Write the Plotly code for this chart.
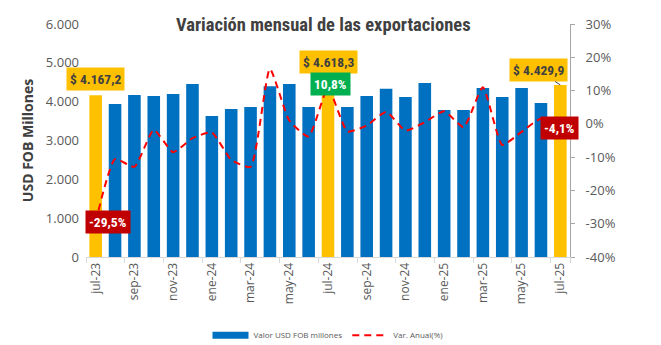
import plotly.graph_objects as go

months = ["jul-23", "ago-23", "sep-23", "oct-23", "nov-23", "dic-23", "ene-24", "feb-24", "mar-24",
          "abr-24", "may-24", "jun-24", "jul-24", "ago-24", "sep-24", "oct-24", "nov-24", "dic-24",
          "ene-25", "feb-25", "mar-25", "abr-25", "may-25", "jun-25", "jul-25"]
valor = [4167.2, 3940, 4170, 4145, 4200, 4457, 3630, 3810, 3860, 4400, 4457, 3860, 4618.3,
         3860, 4145, 4330, 4120, 4480, 3785, 3785, 4355, 4120, 4355, 3965, 4429.9]
var_anual = [-29.5, -10.6, -12.9, -1.8, -8.5, -4.3, -2.6, -10.8, -12.9, 16.5, 1.0, -3.8, 10.8,
             -2.3, -0.5, 3.6, -2.0, 0.5, 3.8, -1.0, 11.0, -6.3, -2.4, 1.5, -4.1]
highlight = ["jul-23", "jul-24", "jul-25"]
tick_labels = months[::2]
left_ticks = [0, 1000, 2000, 3000, 4000, 5000, 6000]
right_ticks = [-40, -30, -20, -10, 0, 10, 20, 30]

BLUE = "#0070C0"
YELLOW = "#FFC000"
RED = "#FF0000"
GREEN = "#00B050"
DARKRED = "#C00000"
GREY = "#595959"
FONT = "Open Sans, DejaVu Sans, sans-serif"
TFONT = "Roboto Condensed, Liberation Sans Narrow, Roboto, sans-serif"

colors = [YELLOW if m in highlight else BLUE for m in months]

fig = go.Figure()
fig.add_trace(go.Bar(x=months, y=valor, marker=dict(color=colors, line=dict(width=0)),
                     name="Valor USD FOB millones", yaxis="y", showlegend=False))
# legend entry drawn as a wide blue band, like the original
fig.add_trace(go.Scatter(x=[None], y=[None], mode="lines", name="Valor USD FOB millones",
                         line=dict(color=BLUE, width=7), yaxis="y"))
fig.add_trace(go.Scatter(x=months, y=var_anual, mode="lines", name="Var. Anual(%)",
                         line=dict(color=RED, width=2, dash="7px,5px", shape="spline", smoothing=0.5),
                         yaxis="y2"))


def fmt_num(v):
    s = f"{v:,.1f}"
    return s.replace(",", "X").replace(".", ",").replace("X", ".")


idx = {m: i for i, m in enumerate(months)}
# value labels
for m in highlight[:2]:
    i = idx[m]
    fig.add_annotation(x=m, y=valor[i], yref="y", text="<b>$ " + fmt_num(valor[i]) + "</b>",
                       showarrow=False, yanchor="bottom", yshift=4, bgcolor=YELLOW,
                       font=dict(family=TFONT, size=13.5, color="#404040"), borderpad=3)
i = idx["jul-25"]
fig.add_annotation(x="jul-25", y=valor[i], yref="y", text="<b>$ " + fmt_num(valor[i]) + "</b>",
                   showarrow=True, arrowhead=0, arrowwidth=1, arrowcolor="#404040",
                   ax=-22, ay=-15, bgcolor=YELLOW, standoff=0,
                   font=dict(family=TFONT, size=13.5, color="#404040"), borderpad=3)

# variation labels
var_lbl = [("jul-23", DARKRED, 12, 0), ("jul-24", GREEN, 2, 4), ("jul-25", DARKRED, -1, 10)]
for m, c, xs, ys in var_lbl:
    i = idx[m]
    fig.add_annotation(x=m, y=var_anual[i], yref="y2",
                       text="<b>" + fmt_num(var_anual[i]) + "%</b>",
                       showarrow=False, xshift=xs, yshift=ys, bgcolor=c,
                       font=dict(family=TFONT, size=13.5, color="white"), borderpad=3)

fig.update_layout(
    width=661, height=345,
    margin=dict(l=86, r=91, t=24, b=88),
    paper_bgcolor="white", plot_bgcolor="white",
    separators=",.",
    bargap=0.35,
    showlegend=True,
    legend=dict(orientation="h", x=0.5, xanchor="center", xref="paper", y=0.028, yanchor="middle",
                yref="container", font=dict(family=FONT, size=8, color=GREY), itemwidth=36,
                tracegroupgap=0),
    title=dict(text="<b>Variación mensual de las exportaciones</b>", x=0.489, xanchor="center",
               y=0.93, yanchor="middle", font=dict(family=TFONT, size=18.5, color="#404040")),
    xaxis=dict(type="category", range=[-0.5, len(months) - 0.5], tickmode="array",
               tickvals=tick_labels, ticktext=tick_labels,
               tickangle=-90, tickson="boundaries", ticks="outside", ticklen=5, tickcolor="#D9D9D9",
               showline=True, linecolor="#D9D9D9", linewidth=1, automargin=False,
               tickfont=dict(family=FONT, size=12, color=GREY), showgrid=False),
    yaxis=dict(range=[0, 6000], tickvals=left_ticks, tickformat=",.0f", showgrid=False,
               zeroline=False, tickfont=dict(family=FONT, size=13, color=GREY), automargin=False,
               ticklabelstandoff=6,
               title=dict(text="<b>USD FOB Millones</b>", font=dict(family=FONT, size=14, color="#404040"),
                          standoff=8)),
    yaxis2=dict(range=[-40, 30], tickmode="array", tickvals=right_ticks,
                ticktext=[f"{v}%" for v in right_ticks], overlaying="y", side="right",
                showgrid=False, zeroline=False, showline=True, linecolor="#A6A6A6", linewidth=1,
                ticks="outside", ticklen=4, tickcolor="#A6A6A6", automargin=False,
                ticklabelstandoff=8,
                tickfont=dict(family=FONT, size=13, color=GREY)),
)

fig.write_html("out.html")
